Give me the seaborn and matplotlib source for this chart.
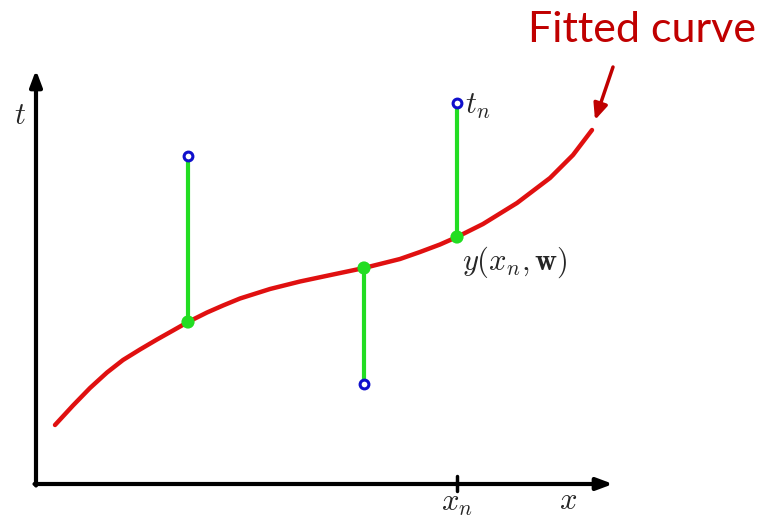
import matplotlib
matplotlib.use("Agg")
import matplotlib.pyplot as plt
import seaborn as sns
import pandas as pd

sns.set_theme(style="white")
plt.rcParams["mathtext.fontset"] = "cm"
plt.rcParams["font.family"] = ["Lato", "DejaVu Sans"]

# Fitted curve samples (x, t) (origin at the axes corner)
curve_x = [19, 37, 54, 71, 87, 104, 121, 137, 152, 171, 187, 204, 234, 264, 297, 328,
           364, 384, 404, 421, 447, 481, 514, 537, 556]
curve_t = [59, 78.5, 96, 111.5, 124, 134.5, 144.5, 153.5, 162, 171.5, 178.5, 185.5, 195,
           202.5, 209.5, 216, 225, 232, 239.5, 247, 260, 281, 306, 329, 354]

# Observations
obs_x = [152, 328, 421]
obs_t = [328, 100, 381]
fit_t = [162, 216, 247]

x_max, t_max = 577, 414
xn = 421

curve = pd.DataFrame({"x": curve_x, "t": curve_t})
obs = pd.DataFrame({"x": obs_x, "t": obs_t})
fit = pd.DataFrame({"x": obs_x, "t": fit_t})

fig = plt.figure(figsize=(7.67, 5.18), dpi=100)
ax = fig.add_axes([0, 0, 1, 1])
ax.set_xlim(-36, 731)
ax.set_ylim(-34, 484)
ax.axis("off")

# axes with arrows
ax.annotate("", xy=(x_max, 0), xytext=(-1.5, 0),
            arrowprops=dict(arrowstyle="-|>,head_length=0.8,head_width=0.3", lw=3, color="black",
                            shrinkA=0, shrinkB=0))
ax.annotate("", xy=(0, t_max), xytext=(0, -1.5),
            arrowprops=dict(arrowstyle="-|>,head_length=0.8,head_width=0.3", lw=3, color="black",
                            shrinkA=0, shrinkB=0))
ax.plot([xn, xn], [-7, 8], color="black", lw=2.5)

# residual lines
for xv, a, b in zip(obs_x, obs_t, fit_t):
    ax.plot([xv, xv], [a, b], color="#22dd22", lw=3, zorder=2)

sns.lineplot(data=curve, x="x", y="t", ax=ax, color="#e01010", lw=3.2, zorder=3,
             sort=False, estimator=None, solid_joinstyle="round", solid_capstyle="round")
sns.scatterplot(data=fit, x="x", y="t", ax=ax, color="#22dd22", s=90, edgecolor="none", zorder=4)
sns.scatterplot(data=obs, x="x", y="t", ax=ax, facecolor="white", edgecolor="#1010cc",
                s=40, linewidth=2.2, zorder=5)

ax.set_xlabel("")
ax.set_ylabel("")

ax.text(-16, 369, r"$t$", fontsize=22, ha="center", va="center")
ax.text(532, -16, r"$x$", fontsize=22, ha="center", va="center")
ax.text(xn, -20, r"$x_n$", fontsize=22, ha="center", va="center")
ax.text(429, 378, r"$t_n$", fontsize=22, ha="left", va="center")
ax.text(426, 222, r"$y(x_n,\mathbf{w})$", fontsize=22, ha="left", va="center")

ax.text(606, 442, "Fitted curve", fontsize=31, color="#c00000", ha="center", va="baseline")
ax.annotate("", xy=(559, 364), xytext=(577, 417),
            arrowprops=dict(arrowstyle="-|>,head_length=0.8,head_width=0.35", lw=2.5, color="#c00000",
                            shrinkA=0, shrinkB=0))

fig.savefig("out.png", dpi=100)
